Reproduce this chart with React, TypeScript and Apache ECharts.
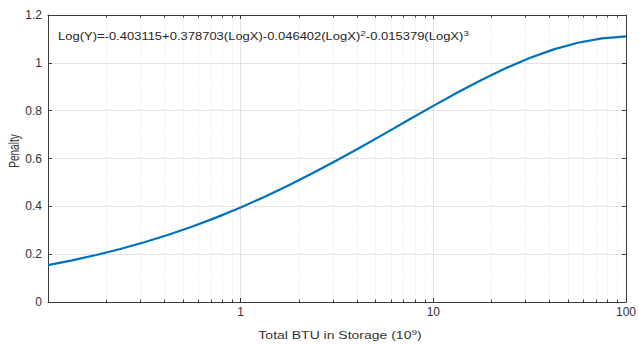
import React, { useEffect, useRef } from 'react';
import * as echarts from 'echarts';

// Curve (Total BTU in storage, 10^9  ->  penalty)
const xValues = [
  0.1, 0.1334, 0.1778, 0.2371, 0.3162, 0.4217, 0.5623, 0.7499,
  1, 1.334, 1.778, 2.371, 3.162, 4.217, 5.623, 7.499,
  10, 13.34, 17.78, 23.71, 31.62, 42.17, 56.23, 74.99, 100,
];
const penalty = [
  0.1539, 0.1739, 0.1964, 0.2217, 0.25, 0.2813, 0.3159, 0.3539,
  0.3953, 0.44, 0.488, 0.539, 0.5926, 0.6482, 0.7052, 0.7628,
  0.82, 0.8756, 0.9284, 0.977, 1.0201, 1.0562, 1.0841, 1.1026, 1.1108,
];

// Minor (log) tick positions between decades
const minorXTicks = [
  0.2, 0.3, 0.4, 0.5, 0.6, 0.7, 0.8, 0.9,
  2, 3, 4, 5, 6, 7, 8, 9,
  20, 30, 40, 50, 60, 70, 80, 90,
];

const xMin = 0.1;
const xMax = 100;
const yMin = 0;
const yMax = 1.2;
const yStep = 0.2;

const equationParts = ['Log(Y)=-0.403115+0.378703(LogX)-0.046402(LogX)', '2', '-0.015379(LogX)', '3'];
const xTitleParts = ['Total BTU in Storage (10', '9', ')'];
const yTitle = 'Penalty';

export default function App() {
  const ref = useRef<HTMLDivElement>(null);

  useEffect(() => {
    const chart = echarts.init(ref.current!, null, { renderer: 'svg' });
    const font = '"Liberation Sans", Arial, Helvetica, sans-serif';
    const axisColor = '#3a3a3a';
    const textColor = '#333333';
    const gridColor = '#e2e2e2';
    const minorGridColor = '#dedede';

    const eqRich = {
      b: { fontSize: 13, lineHeight: 16, fontFamily: font, fill: '#262626' },
      s: { fontSize: 9.5, lineHeight: 8, verticalAlign: 'top', fontFamily: font, fill: '#262626' },
    };
    const titleRich = {
      b: { fontSize: 14, lineHeight: 17, fontFamily: font, fill: textColor },
      s: { fontSize: 10, lineHeight: 8, verticalAlign: 'top', fontFamily: font, fill: textColor },
    };

    chart.setOption({
      animation: false,
      backgroundColor: '#ffffff',
      grid: { left: 48, right: 8, top: 15, bottom: 42, containLabel: false },
      xAxis: [
        {
          type: 'log',
          logBase: 10,
          min: xMin,
          max: xMax,
          position: 'bottom',
          axisLine: { show: true, onZero: false, lineStyle: { color: axisColor, width: 1 } },
          axisTick: { show: true, inside: true, length: 4, lineStyle: { color: axisColor } },
          axisLabel: {
            color: textColor,
            fontSize: 12,
            fontFamily: font,
            margin: 4,
            formatter: (v: number) => (v < 0.5 ? '' : String(Math.round(v))),
          },
          splitLine: { show: true, lineStyle: { color: gridColor, width: 1 } },
        },
        {
          type: 'log',
          logBase: 10,
          min: xMin,
          max: xMax,
          position: 'top',
          axisLine: { show: true, onZero: false, lineStyle: { color: axisColor, width: 1 } },
          axisTick: { show: true, inside: true, length: 4, lineStyle: { color: axisColor } },
          axisLabel: { show: false },
          splitLine: { show: false },
        },
      ],
      yAxis: [
        {
          type: 'value',
          min: yMin,
          max: yMax,
          interval: yStep,
          position: 'left',
          axisLine: { show: true, onZero: false, lineStyle: { color: axisColor, width: 1 } },
          axisTick: { show: true, inside: true, length: 4, lineStyle: { color: axisColor } },
          axisLabel: { color: textColor, fontSize: 12, fontFamily: font, margin: 6 },
          splitLine: { show: true, lineStyle: { color: gridColor, width: 1 } },
        },
        {
          type: 'value',
          min: yMin,
          max: yMax,
          interval: yStep,
          position: 'right',
          axisLine: { show: true, onZero: false, lineStyle: { color: axisColor, width: 1 } },
          axisTick: { show: true, inside: true, length: 4, lineStyle: { color: axisColor } },
          axisLabel: { show: false },
          splitLine: { show: false },
        },
      ],
      graphic: [
        {
          type: 'text',
          silent: true,
          x: 58,
          y: 36,
          scaleY: 0.82,
          z: 100,
          style: {
            text: `{b|${equationParts[0]}}{s|${equationParts[1]}}{b|${equationParts[2]}}{s|${equationParts[3]}}`,
            rich: eqRich,
            align: 'left',
            verticalAlign: 'middle',
          },
        },
        {
          type: 'text',
          silent: true,
          x: 340,
          y: 335,
          scaleY: 0.8,
          style: {
            text: `{b|${xTitleParts[0]}}{s|${xTitleParts[1]}}{b|${xTitleParts[2]}}`,
            rich: titleRich,
            align: 'center',
            verticalAlign: 'middle',
          },
        },
        {
          type: 'text',
          silent: true,
          x: 14,
          y: 151,
          rotation: Math.PI / 2,
          scaleX: 0.72,
          style: {
            text: yTitle,
            fontSize: 14,
            fontFamily: font,
            fill: textColor,
            align: 'center',
            verticalAlign: 'middle',
          },
        },
      ],
      series: [
        {
          type: 'custom',
          silent: true,
          xAxisIndex: 0,
          yAxisIndex: 0,
          z: 1,
          data: minorXTicks.map((v) => [v, yMin]),
          renderItem: (params: any, api: any) => {
            const pt = api.coord([api.value(0), yMin]);
            const cs = params.coordSys;
            const x = Math.round(pt[0]) + 0.5;
            const top = cs.y;
            const bottom = cs.y + cs.height;
            return {
              type: 'group',
              children: [
                {
                  type: 'line',
                  shape: { x1: x, y1: bottom, x2: x, y2: top },
                  style: { stroke: minorGridColor, lineWidth: 1, lineDash: [1, 2] },
                },
                {
                  type: 'line',
                  shape: { x1: x, y1: bottom, x2: x, y2: bottom - 2.5 },
                  style: { stroke: axisColor, lineWidth: 1 },
                },
                {
                  type: 'line',
                  shape: { x1: x, y1: top, x2: x, y2: top + 2.5 },
                  style: { stroke: axisColor, lineWidth: 1 },
                },
              ],
            };
          },
        },
        {
          type: 'line',
          xAxisIndex: 0,
          yAxisIndex: 0,
          z: 5,
          data: xValues.map((x, i) => [x, penalty[i]]),
          showSymbol: false,
          smooth: false,
          lineStyle: { color: '#0072BD', width: 2.2, join: 'round' },
          itemStyle: { color: '#0072BD' },
        },
      ],
    });

    return () => chart.dispose();
  }, []);

  return <div ref={ref} style={{ position: 'fixed', left: 0, top: 0, width: 639, height: 344 }} />;
}
